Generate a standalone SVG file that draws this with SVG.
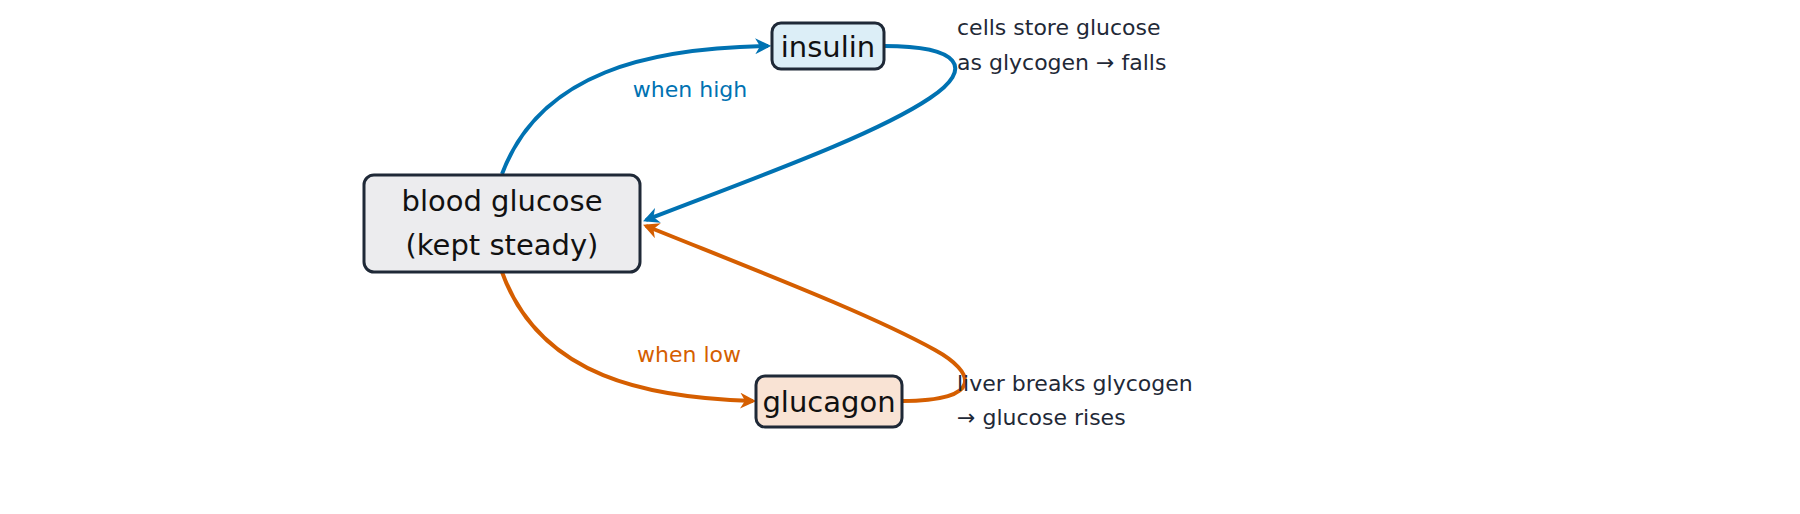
<svg xmlns="http://www.w3.org/2000/svg" width="1800" height="514" viewBox="0 0 1800 514">
<style>
text{font-family:"DejaVu Sans","Liberation Sans",sans-serif}
.node{stroke:#1f2937;stroke-width:3}
.big{font-size:29px;fill:#111;text-anchor:middle}
.note{font-size:22px;fill:#1f2937}
.c{fill:none;stroke-width:4}
</style>
<defs>
<marker id="ab" viewBox="0 0 10 10" refX="8" refY="5" markerWidth="4" markerHeight="4" orient="auto"><path d="M0,0 L10,5 L0,10 L3,5 Z" fill="#0072b2"/></marker>
<marker id="ao" viewBox="0 0 10 10" refX="8" refY="5" markerWidth="4" markerHeight="4" orient="auto"><path d="M0,0 L10,5 L0,10 L3,5 Z" fill="#d55e00"/></marker>
</defs>
<rect width="1800" height="514" fill="#fff"/>
<g id="connectors">
<path class="c" stroke="#0072b2" marker-end="url(#ab)" d="M502,174 C540,72 650,48 768,46"/>
<path class="c" stroke="#0072b2" marker-end="url(#ab)" d="M884,46 C960,46 975,68 930,98 C875,135 760,176 646,220"/>
<path class="c" stroke="#d55e00" marker-end="url(#ao)" d="M502,272 C540,378 650,398 753,401"/>
<path class="c" stroke="#d55e00" marker-end="url(#ao)" d="M902,401 C985,401 975,372 935,350 C870,314 760,272 646,226"/>
<text x="690" y="97" font-size="22" fill="#0072b2" text-anchor="middle">when high</text>
<text x="689" y="362" font-size="22" fill="#d55e00" text-anchor="middle">when low</text>
</g>
<g id="blood">
<rect class="node" x="364" y="175" width="276" height="97" rx="10" fill="#ececee"/>
<text class="big" x="502" y="211">blood glucose</text>
<text class="big" x="502" y="255">(kept steady)</text>
</g>
<g id="insulin">
<rect class="node" x="772" y="23" width="112" height="46" rx="9" fill="#dceef7"/>
<text class="big" x="828" y="57">insulin</text>
</g>
<g id="glucagon">
<rect class="node" x="756" y="376" width="146" height="51" rx="9" fill="#f9e3d4"/>
<text class="big" x="829" y="412">glucagon</text>
</g>
<g id="notes">
<text class="note" x="957" y="35">cells store glucose</text>
<text class="note" x="957" y="70">as glycogen → falls</text>
<text class="note" x="957" y="391">liver breaks glycogen</text>
<text class="note" x="957" y="425">→ glucose rises</text>
</g>
</svg>
